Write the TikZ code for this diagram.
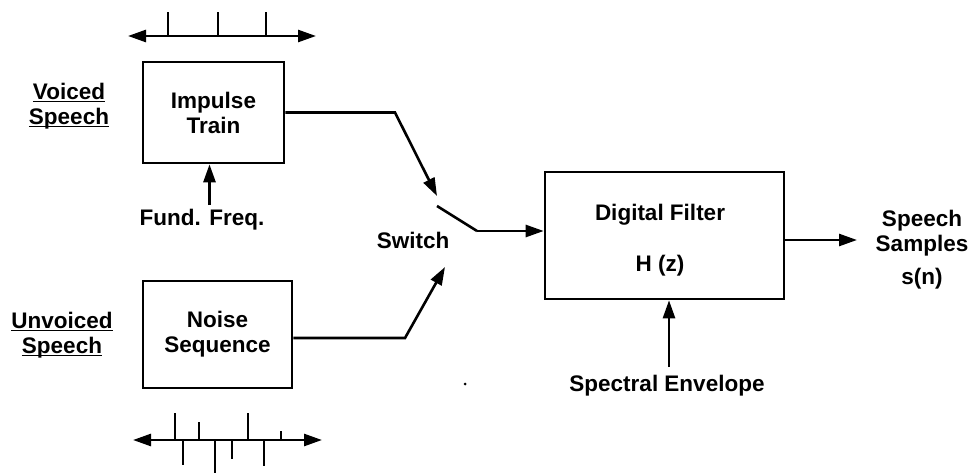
\documentclass[tikz,border=0pt]{standalone}
\usepackage{fontspec}
\setmainfont{Liberation Sans}
\usetikzlibrary{arrows.meta}
\newcommand{\ulbold}[1]{\setbox0=\hbox{#1}\rlap{\rule[-3pt]{\wd0}{1.8pt}}\box0}
\begin{document}
\begin{tikzpicture}[x=1pt,y=-1pt,
  every node/.style={font=\fontsize{22.5}{25}\selectfont\bfseries, align=center, inner sep=0pt},
  block/.style={draw, line width=2.6pt},
  arr/.style={line width=2.6pt, -{Triangle[length=18pt,width=12pt]}},
  wire/.style={line width=2.6pt},
  axis/.style={line width=2.6pt, {Triangle[length=18pt,width=12pt]}-{Triangle[length=18pt,width=12pt]}},
  tick/.style={line width=2.4pt}]
\useasboundingbox (0,0) rectangle (976,473);

% blocks
\node[block, minimum width=141pt, minimum height=101pt] (imp) at (213.5,112.5) {Impulse\\Train};
\node[block, minimum width=149pt, minimum height=107pt] (noise) at (217.5,334.5) {Noise\\Sequence};
\node[block, minimum width=239pt, minimum height=127pt] (filt) at (664.5,235.5) {};
\node (ftxt) at (660,215) {Digital Filter};
\node (htxt) at (660,266) {H (z)};

% labels
\node (voiced) at (69,106) {\ulbold{Voiced}\\\ulbold{Speech}};
\node (unvoiced) at (62,335) {\ulbold{Unvoiced}\\\ulbold{Speech}};
\node (ff) at (202,220) {Fund. Freq.};
\node (sw) at (413,240) {Switch};
\node (se) at (667,386) {Spectral Envelope};
\node (out) at (922,250) {Speech\\Samples\\[8pt]s(n)};

% switch contacts
\coordinate (swA) at (437,196);
\coordinate (swB) at (445,267);
\coordinate (swT) at (437,206);
\coordinate (swP) at (477,231);
\coordinate (bendA) at (395,112.5);
\coordinate (bendB) at (405,338);

% connectors
\draw[arr] (imp.east) -- (bendA) -- (swA);
\draw[arr] (noise.east |- bendB) -- (bendB) -- (swB);
\draw[wire] (swT) -- (swP);
\draw[arr] (swP) -- (filt.west |- swP);
\draw[arr] ([xshift=-4pt]imp.south |- 0,205) -- ([xshift=-4pt]imp.south);
\draw[arr] ([xshift=4.5pt]filt.south |- 0,367) -- ([xshift=4.5pt]filt.south);
\draw[arr] (filt.east |- 0,240) -- (857,240);

% top axis (impulse train)
\coordinate (ta1) at (128,36);
\coordinate (ta2) at (316,36);
\draw[axis] (ta1) -- (ta2);
\foreach \x in {168,218,266} \draw[tick] (\x,36) -- (\x,12);

% bottom axis (noise)
\coordinate (ba1) at (133,440);
\coordinate (ba2) at (322,440);
\draw[axis] (ba1) -- (ba2);
\foreach \x/\y in {175/413,199/422,248/413,281/431,183/465,215/473,232/459,264/466}
  \draw[tick] (\x,440) -- (\x,\y);

% stray dot
\fill (465,384) circle (1.5pt);
\end{tikzpicture}
\end{document}
